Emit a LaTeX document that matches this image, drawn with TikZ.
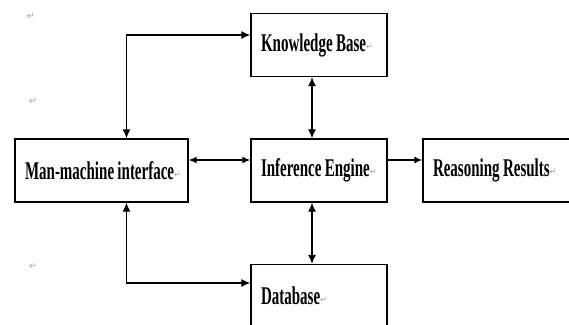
\documentclass[tikz,border=0pt]{standalone}
\usepackage{fontspec}
\setmainfont{Liberation Serif}
\newfontfamily\markfont{DejaVu Sans}
\usetikzlibrary{arrows.meta}

% box text, stretched upwards, with the paragraph mark after it
\newcommand{\boxtext}[1]{\raisebox{-2pt}{\scalebox{1}[1.7]{\bfseries\fontsize{15}{18}\selectfont #1}}{\markfont\fontsize{8}{9}\selectfont\color{gray!80}↵}}

\begin{document}
\begin{tikzpicture}[x=1pt,y=1pt]

% definitions
\tikzstyle{block} = [rectangle, minimum height=63pt, inner xsep=10pt, align=left, draw=black, line width=1.3pt, fill=white]
\tikzstyle{small} = [block, text width=116pt]
\tikzstyle{wide} = [block, text width=153pt]
\tikzstyle{result} = [block, text width=140pt]
\tikzstyle{parmark} = [text=gray!70, font=\markfont\fontsize{10}{11}\selectfont]
\tikzstyle{arrow} = [line width=1.2pt, >={Latex[length=9pt,width=8pt]}]
\tikzstyle{thick arrow} = [arrow, line width=2.2pt, >={Latex[length=8pt,width=7pt]}]

\useasboundingbox (0,0) rectangle (569,-324);
\clip (0,0) rectangle (569,-324);

% the graph
\node (ie) [small] at (319,-170.5) {\boxtext{Inference Engine}};

\node (kb) [small, above of=ie, node distance=125.5pt] {\boxtext{Knowledge Base}};

\node (db) [small, below of=ie, node distance=125.5pt] {\boxtext{Database}};

\node (mmi) [wide, left of=ie, node distance=217.5pt] {\boxtext{Man-machine interface}};

\node (rr) [result, right of=ie, node distance=184pt] {\boxtext{Reasoning Results}};

\node (m1) [parmark] at (31,-16) {↵};
\node (m2) [parmark] at (33,-101) {↵};
\node (m3) [parmark] at (33,-266) {↵};


\draw [thick arrow, <->] ([yshift=10.5pt]mmi.east) -- ([yshift=10.5pt]ie.west);
\draw [thick arrow, ->] ([yshift=10.5pt]ie.east) -- ([yshift=10.5pt]rr.west);
\draw [arrow, <->] ([xshift=-7pt]kb.south) -- ([xshift=-7pt]ie.north);
\draw [arrow, <->] ([xshift=-7pt]ie.south) -- ([xshift=-7pt]db.north);
\draw [arrow, <->] ([xshift=25pt]mmi.north) |- ([yshift=10pt]kb.west);
\draw [arrow, <->] ([xshift=25pt]mmi.south) |- ([yshift=13pt]db.west);

\end{tikzpicture}
\end{document}
